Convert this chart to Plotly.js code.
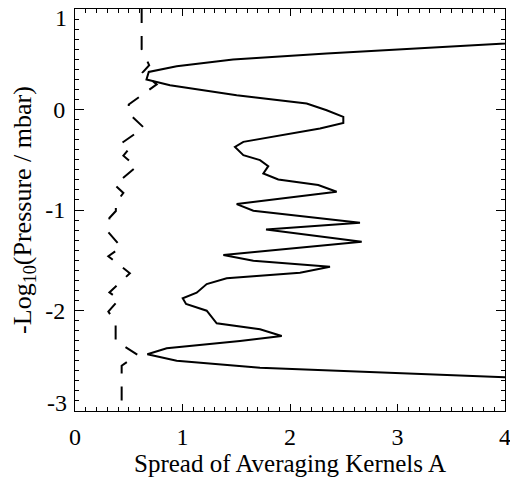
<!DOCTYPE html>
<html>
<head>
<meta charset="utf-8">
<script src="https://cdn.plot.ly/plotly-3.0.1.min.js"></script>
<style>html,body{margin:0;padding:0;background:#fff;}</style>
</head>
<body>
<div id="chart" style="width:510px;height:479px;"></div>
<script>
// Solid curve: spread of averaging kernels (x) vs -log10(pressure/mbar) (y)
const spreadSolid = [5.0, 4.00, 2.34, 1.47, 0.946, 0.686, 0.665, 0.884, 1.504, 2.155, 2.341, 2.496, 2.496, 2.279, 1.566, 1.488,
  1.566, 1.721, 1.798, 1.752, 1.891, 2.263, 2.434, 1.504, 1.659, 2.651, 1.777, 2.667, 1.380, 1.659,
  2.372, 2.093, 1.411, 1.225, 1.132, 1.002, 1.033, 1.225, 1.318, 1.721, 1.923, 1.535, 0.853, 0.673,
  0.946, 1.721, 2.961, 4.0, 5.0];
const levelSolid = [0.716, 0.656, 0.557, 0.497, 0.430, 0.374, 0.299, 0.242, 0.142, 0.060, -0.007, -0.074, -0.133, -0.189, -0.322, -0.372,
  -0.454, -0.504, -0.564, -0.636, -0.696, -0.752, -0.819, -0.941, -1.008, -1.127, -1.193, -1.316, -1.448, -1.505,
  -1.565, -1.624, -1.680, -1.737, -1.823, -1.879, -1.935, -2.002, -2.127, -2.187, -2.253, -2.303, -2.376, -2.435,
  -2.499, -2.569, -2.624, -2.664, -2.70];

// Dashed curve
const spreadDashed = [0.62, 0.62, 0.69, 0.63, 0.76, 0.50, 0.50, 0.64, 0.44, 0.51, 0.45, 0.57, 0.37, 0.45, 0.38, 0.38, 0.32,
  0.31, 0.43, 0.31, 0.51, 0.32, 0.41, 0.31, 0.378, 0.378, 0.58, 0.434, 0.434];
const levelDashed = [1.0, 0.60, 0.44, 0.37, 0.25, 0.05, -0.04, -0.18, -0.33, -0.38, -0.46, -0.57, -0.75, -0.83, -0.93, -1.01, -1.08,
  -1.22, -1.37, -1.46, -1.63, -1.82, -1.89, -2.01, -2.12, -2.30, -2.44, -2.55, -3.0];

const xTicks = [0, 1, 2, 3, 4];
const xTickText = ["0", "1", "2", "3", "4"];
const yTicks = [-2, -1, 0];
const yTickText = ["-2", "-1", "0"];
const yEndLabels = [{v: 1, t: "1"}, {v: -3, t: "-3"}];

const FONT = "Liberation Serif, Times New Roman, serif";
const TICK_SIZE = 24;
const XTITLE_SIZE = 25;
const YTITLE_SIZE = 26;

const traces = [
  {x: spreadSolid, y: levelSolid, mode: "lines", type: "scatter",
   line: {color: "#000", width: 2}, hoverinfo: "skip"},
  {x: spreadDashed, y: levelDashed, mode: "lines", type: "scatter",
   line: {color: "#000", width: 2, dash: "14px,13px"}, hoverinfo: "skip"}
];

const axisCommon = {
  showgrid: false, zeroline: false, showline: true, linecolor: "#000", linewidth: 1,
  mirror: "allticks", ticks: "inside", tickcolor: "#000", tickwidth: 1,
  ticklabeloverflow: "allow",
  tickfont: {family: FONT, size: TICK_SIZE, color: "#000"}
};

const layout = {
  width: 510, height: 479,
  margin: {l: 75, r: 5, t: 9, b: 68},
  paper_bgcolor: "#fff", plot_bgcolor: "#fff",
  showlegend: false,
  font: {family: FONT, color: "#000"},
  xaxis: Object.assign({}, axisCommon, {
    range: [0, 4], tickmode: "array", tickvals: xTicks, ticktext: xTickText, ticklen: 7,
    ticklabelstandoff: 4,
    minor: {dtick: 0.1, ticks: "inside", ticklen: 4, tickcolor: "#000", tickwidth: 1, showgrid: false},
    title: {text: "Spread of Averaging Kernels A", font: {family: FONT, size: XTITLE_SIZE, color: "#000"}, standoff: 1}
  }),
  yaxis: Object.assign({}, axisCommon, {
    range: [-3, 1], tickmode: "array", tickvals: yTicks, ticktext: yTickText, ticklen: 9,
    ticklabelstandoff: 4,
    minor: {dtick: 0.1, ticks: "inside", ticklen: 4, tickcolor: "#000", tickwidth: 1, showgrid: false},
    title: {text: "-Log<sub>10</sub>(Pressure / mbar)", font: {family: FONT, size: YTITLE_SIZE, color: "#000"}, standoff: 6}
  }),
  annotations: yEndLabels.map(o => ({
    xref: "paper", yref: "y", x: 0, y: o.v, text: o.t, showarrow: false,
    xanchor: "right", yanchor: "middle", xshift: -6, yshift: o.v > 0 ? -9 : 8,
    font: {family: FONT, size: TICK_SIZE, color: "#000"}
  }))
};

Plotly.newPlot("chart", traces, layout, {staticPlot: true, displayModeBar: false});
</script>
</body>
</html>
